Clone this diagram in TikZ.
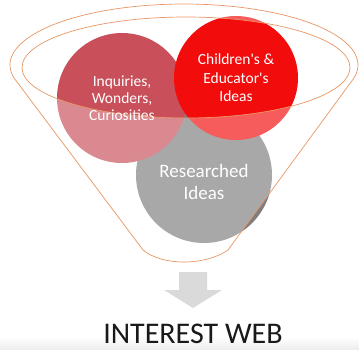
\documentclass[tikz,border=0pt]{standalone}
\usepackage{fontspec}
\setmainfont{Carlito}
\definecolor{rosa}{RGB}{201,80,90}
\definecolor{vermelho}{RGB}{242,12,12}
\definecolor{cinza}{RGB}{126,126,126}
\definecolor{laranja}{RGB}{232,150,100}
\definecolor{setacinza}{RGB}{218,218,218}
\tikzset{
	bubble/.style={circle, inner sep=0pt},
	bubbletext/.style={text=white, align=center},
	funnel/.style={draw=laranja, line width=0.7pt}
}
\begin{document}
\begin{tikzpicture}[x=1pt,y=1pt]
		\useasboundingbox (0,0) rectangle (359,349);
		\shade[top color=white, bottom color=black!7] (0,0) rectangle (359,12);
		% circles
		\node[bubble, fill=cinza, minimum size=136pt] at (204,174) (res) {};
		\node[bubble, fill=rosa, minimum size=130pt] at (122,251) (inq) {};
		\node[bubble, fill=vermelho, minimum size=124pt] at (236,271) (chi) {};
		% funnel body
		\path[fill=white, fill opacity=.33, even odd rule]
		(14,271) arc[start angle=192.3, end angle=-12.3, x radius=174, y radius=61]
		-- (228,99) .. controls (205,83) and (162,83) .. (143,99) -- cycle
		(186,281.5) ellipse[x radius=164, y radius=50.5];
		\draw[funnel] (14,271) arc[start angle=192.3, end angle=-12.3, x radius=174, y radius=61]
		-- (228,99) .. controls (205,83) and (162,83) .. (143,99) -- cycle;
		\draw[funnel] (186,281.5) ellipse[x radius=164, y radius=50.5];
		% texts
		\node[bubbletext, font=\fontsize{15.5}{16.8}\selectfont] at (inq.center) (inqtxt) {Inquiries,\\Wonders,\\Curiosities};
		\node[bubbletext, font=\fontsize{15.5}{18.5}\selectfont] at (chi.center) (chitxt) {Children\textquotesingle s \&\\Educator\textquotesingle s\\Ideas};
		\node[bubbletext, font=\fontsize{19}{21.5}\selectfont] at ([yshift=-7pt]res.center) (restxt) {Researched\\Ideas};
		% arrow
		\fill[setacinza] (179,77) -- (207,77) -- (207,59) -- (222,59) -- (193,41) -- (164,59) -- (179,59) -- cycle;
		\node[anchor=base, font=\fontsize{30}{31}\selectfont, text=black!90] at (193,6) (web) {INTEREST WEB};
	\end{tikzpicture}
\end{document}
